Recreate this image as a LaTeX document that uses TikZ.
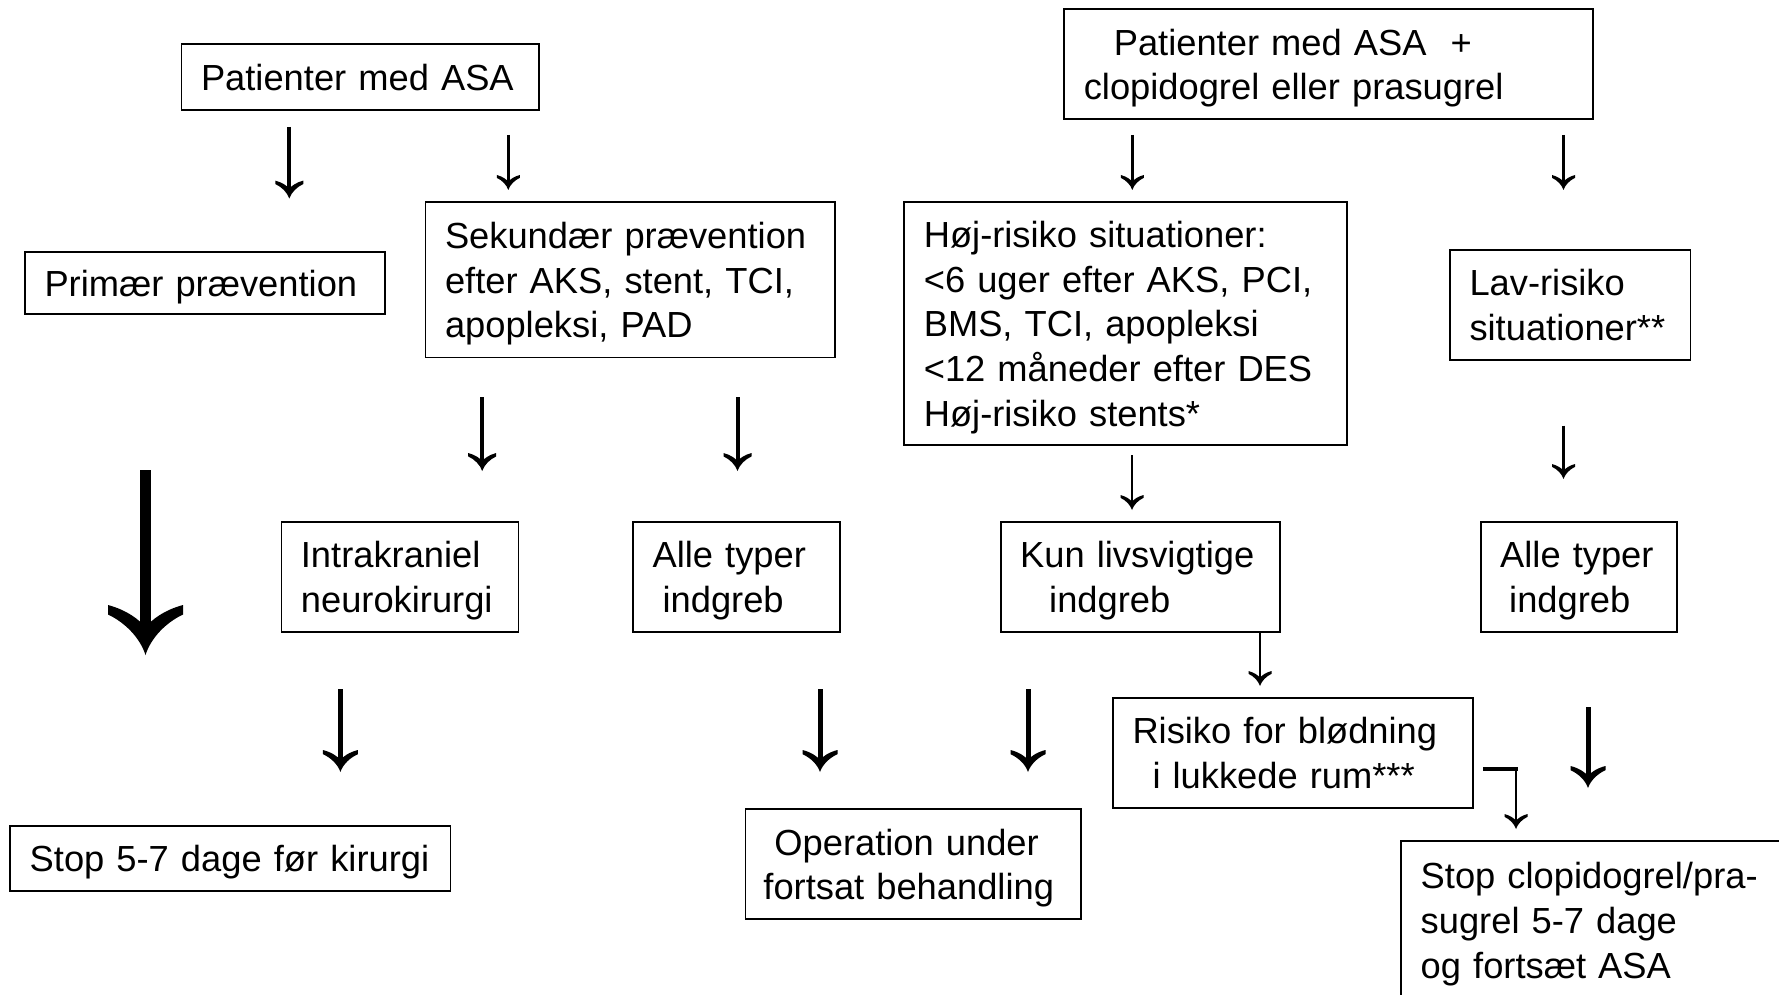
\documentclass[tikz,border=0pt]{standalone}
\usepackage{fontspec}
\setmainfont{Liberation Sans}
\usetikzlibrary{arrows.meta}
\pgfdeclarearrow{
  name = Horn,
  parameters = {\the\pgfarrowlength,\the\pgfarrowwidth},
  setup code = {
    \pgfarrowssettipend{0pt}
    \pgfarrowssetlineend{-.5\pgfarrowlength}
    \pgfarrowssetvisualbackend{-.6\pgfarrowlength}
    \pgfarrowssetbackend{-\pgfarrowlength}
    \pgfarrowsupperhullpoint{-\pgfarrowlength}{.5\pgfarrowwidth}
    \pgfarrowssavethe\pgfarrowlength
    \pgfarrowssavethe\pgfarrowwidth
  },
  drawing code = {
    \pgfpathmoveto{\pgfqpoint{0pt}{0pt}}
    \pgfpathcurveto{\pgfqpoint{-.35\pgfarrowlength}{.075\pgfarrowwidth}}{\pgfqpoint{-.65\pgfarrowlength}{.275\pgfarrowwidth}}{\pgfqpoint{-.81\pgfarrowlength}{.5\pgfarrowwidth}}
    \pgfpathlineto{\pgfqpoint{-\pgfarrowlength}{.5\pgfarrowwidth}}
    \pgfpathcurveto{\pgfqpoint{-.9\pgfarrowlength}{.25\pgfarrowwidth}}{\pgfqpoint{-.7\pgfarrowlength}{.075\pgfarrowwidth}}{\pgfqpoint{-.55\pgfarrowlength}{0pt}}
    \pgfpathcurveto{\pgfqpoint{-.7\pgfarrowlength}{-.075\pgfarrowwidth}}{\pgfqpoint{-.9\pgfarrowlength}{-.25\pgfarrowwidth}}{\pgfqpoint{-\pgfarrowlength}{-.5\pgfarrowwidth}}
    \pgfpathlineto{\pgfqpoint{-.81\pgfarrowlength}{-.5\pgfarrowwidth}}
    \pgfpathcurveto{\pgfqpoint{-.65\pgfarrowlength}{-.275\pgfarrowwidth}}{\pgfqpoint{-.35\pgfarrowlength}{-.075\pgfarrowwidth}}{\pgfqpoint{0pt}{0pt}}
    \pgfpathclose
    \pgfusepathqfill
  },
  defaults = {length = 15pt, width = 23pt}
}
\newcommand\st{\rule[-9pt]{0pt}{44.8pt}}
\newcommand\Ln[1]{\mbox{\st#1}}
\begin{document}
\begin{tikzpicture}[x=1pt,y=-1pt,
  font=\fontsize{36.3}{44.8}\selectfont,
  box/.style={draw, line width=1.8pt, anchor=north west, outer sep=0pt,
    inner xsep=19.5pt, inner ysep=0pt, align=left},
  arrB/.style={line width=11pt, -{Horn[length=50pt,width=75pt]}},
  arrK/.style={line width=5pt, -{Horn[length=22pt,width=35pt]}},
  arrM/.style={line width=4pt, -{Horn[length=18pt,width=28pt]}},
  arrT/.style={line width=2.8pt, -{Horn[length=15pt,width=23pt]}},
  bar/.style={line width=4pt}
]
\path[use as bounding box, fill=white] (0,0) rectangle (1779,995);
\clip (0,0) rectangle (1779,995);

% boxes
\node[box, minimum width=357.5pt, minimum height=65.8pt, text width=318.5pt] (asa) at (181.5,44.3)
  {\Ln{Patienter med ASA}};
\node[box, minimum width=359.7pt, minimum height=62.4pt, text width=320.7pt] (prim) at (25,251.9)
  {\Ln{Primær prævention}};
\node[box, minimum width=409.6pt, minimum height=155.4pt, text width=370.6pt] (sek) at (425.5,202)
  {\Ln{Sekundær prævention}\\\Ln{efter AKS, stent, TCI,}\\\Ln{apopleksi, PAD}};
\node[box, minimum width=528.7pt, minimum height=110pt, text width=489.7pt] (asa2) at (1064.3,9.1)
  {\Ln{\hspace*{30pt}Patienter med ASA\ \ +}\\\Ln{clopidogrel eller prasugrel}};
\node[box, minimum width=442.5pt, minimum height=242.8pt, text width=403.5pt] (hoj) at (904.3,202)
  {\Ln{Høj-risiko situationer:}\\\Ln{<6 uger efter AKS, PCI,}\\\Ln{BMS, TCI, apopleksi}\\\Ln{<12 måneder efter DES}\\\Ln{Høj-risiko stents*}};
\node[box, minimum width=240.5pt, minimum height=110pt, text width=201.5pt] (lav) at (1450,249.6)
  {\Ln{Lav-risiko}\\\Ln{situationer**}};
\node[box, minimum width=237.1pt, minimum height=110pt, text width=198.1pt] (intra) at (281.4,521.9)
  {\Ln{Intrakraniel}\\\Ln{neurokirurgi}};
\node[box, minimum width=206.5pt, minimum height=110pt, text width=167.5pt] (alle1) at (633.1,521.9)
  {\Ln{Alle typer}\\\Ln{\hspace*{10pt}indgreb}};
\node[box, minimum width=279.1pt, minimum height=110pt, text width=240.1pt] (kun) at (1000.7,521.9)
  {\Ln{Kun livsvigtige}\\\Ln{\hspace*{29pt}indgreb}};
\node[box, minimum width=196.3pt, minimum height=110pt, text width=157.3pt] (alle2) at (1480.7,521.9)
  {\Ln{Alle typer}\\\Ln{\hspace*{9pt}indgreb}};
\node[box, minimum width=359.7pt, minimum height=110pt, text width=320.7pt] (ris) at (1113,697.8)
  {\Ln{Risiko for blødning}\\\Ln{\hspace*{20pt}i lukkede rum***}};
\node[box, minimum width=440.2pt, minimum height=64.7pt, text width=401.2pt] (stop1) at (10.2,826)
  {\Ln{Stop 5-7 dage før kirurgi}};
\node[box, minimum width=335.9pt, minimum height=110pt, text width=299.9pt, inner xsep=18pt] (oper) at (745.4,809)
  {\Ln{\hspace*{11pt}Operation under}\\\Ln{fortsat behandling}};
\node[box, minimum width=420pt, minimum height=159pt, text width=381pt] (stop2) at (1401.2,840.7)
  {\Ln{Stop clopidogrel/pra-}\\\Ln{sugrel 5-7 dage}\\\Ln{og fortsæt ASA}};

% arrow end points
\coordinate (a1s) at (289.3,127);   \coordinate (a1e) at (289.3,198.6);
\coordinate (a2s) at (508.3,135);   \coordinate (a2e) at (508.3,190);
\coordinate (a3s) at (482.2,397);   \coordinate (a3e) at (482.2,471);
\coordinate (a4s) at (737.5,397);   \coordinate (a4e) at (737.5,471);
\coordinate (a5s) at (145.5,470);   \coordinate (a5e) at (145.5,655);
\coordinate (a6s) at (340.4,689);   \coordinate (a6e) at (340.4,772);
\coordinate (a7s) at (820,689);     \coordinate (a7e) at (820,772);
\coordinate (a8s) at (1028,689);    \coordinate (a8e) at (1028,772);
\coordinate (a9s) at (1132.3,135);  \coordinate (a9e) at (1132.3,190);
\coordinate (a10s) at (1563.5,135); \coordinate (a10e) at (1563.5,190);
\coordinate (a11s) at (1132,455);   \coordinate (a11e) at (1132,510);
\coordinate (a12s) at (1563.5,425.5); \coordinate (a12e) at (1563.5,479);
\coordinate (a13s) at (1260,632);   \coordinate (a13e) at (1260,686);
\coordinate (b1) at (1483,769);     \coordinate (b2) at (1518,769);
\coordinate (a14s) at (1516,769);   \coordinate (a14e) at (1516,829);
\coordinate (a15s) at (1588,707);   \coordinate (a15e) at (1588,788);

% connectors
\draw[arrM] (a1s) -- (a1e);
\draw[arrT] (a2s) -- (a2e);
\draw[arrM] (a3s) -- (a3e);
\draw[arrM] (a4s) -- (a4e);
\draw[arrB] (a5s) -- (a5e);
\draw[arrK] (a6s) -- (a6e);
\draw[arrK] (a7s) -- (a7e);
\draw[arrK] (a8s) -- (a8e);
\draw[arrT] (a9s) -- (a9e);
\draw[arrT] (a10s) -- (a10e);
\draw[arrT] (a11s) -- (a11e);
\draw[arrT] (a12s) -- (a12e);
\draw[arrT] (a13s) -- (a13e);
\draw[bar] (b1) -- (b2);
\draw[arrT] (a14s) -- (a14e);
\draw[arrK] (a15s) -- (a15e);
\end{tikzpicture}
\end{document}
